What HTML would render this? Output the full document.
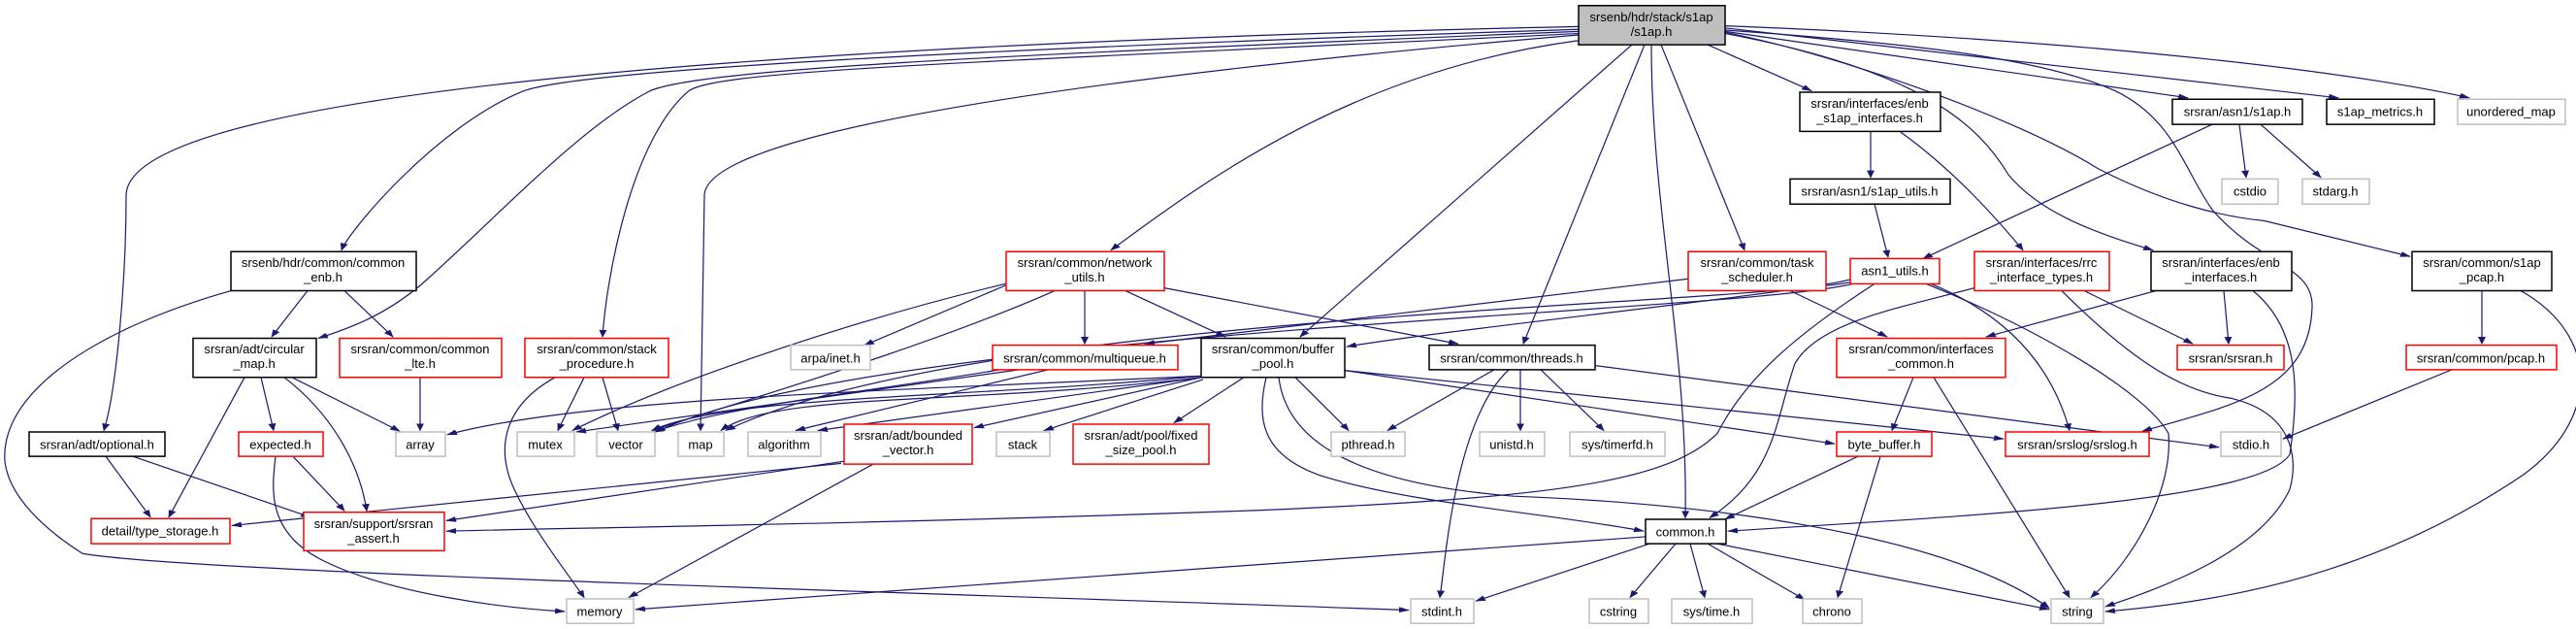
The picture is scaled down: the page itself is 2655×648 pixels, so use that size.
<!DOCTYPE html>
<html><head><meta charset="utf-8"><style>
html,body{margin:0;padding:0;background:#fff;}
svg{display:block;}
text{font-family:"Liberation Sans",sans-serif;font-size:13px;fill:#000;text-anchor:middle;}
.e{fill:none;stroke:#191970;stroke-width:1.2;marker-end:url(#a);vector-effect:non-scaling-stroke;}
.k{fill:#fff;stroke:#000;stroke-width:1.5;vector-effect:non-scaling-stroke;}
.r{fill:#fff;stroke:#ff0000;stroke-width:1.5;vector-effect:non-scaling-stroke;}
.g{fill:#fff;stroke:#bfbfbf;stroke-width:1.5;vector-effect:non-scaling-stroke;}
</style></head><body>
<svg width="2655" height="648" viewBox="0 0 2655 648" xmlns="http://www.w3.org/2000/svg">
<defs><marker id="a" markerWidth="11" markerHeight="8" refX="10" refY="4" orient="auto" markerUnits="userSpaceOnUse"><path d="M0,0 L11,4 L0,8z" fill="#191970"/></marker></defs>
<g transform="scale(1,0.72)">
<path class="e" d="M1627,38 C900,60 130,120 130,280 C130,400 120,560 107,616"/>
<path class="e" d="M1627,42 C1000,70 600,100 540,130 C450,180 360,330 352,358"/>
<path class="e" d="M1627,45 C1000,80 720,100 670,130 C600,180 520,300 440,400 C400,450 360,470 328,484"/>
<path class="e" d="M1627,48 C1000,90 740,100 710,130 C650,200 625,400 621,482"/>
<path class="e" d="M1627,50 C1200,100 726,180 726,280 L722,616"/>
<path class="e" d="M1627,58 C1400,100 1250,250 1145,358"/>
<path class="e" d="M1682,64 L1340,482"/>
<path class="e" d="M1695,64 L1570,492"/>
<path class="e" d="M1702,64 C1702,300 1740,500 1737,741"/>
<path class="e" d="M1712,64 L1798,358"/>
<path class="e" d="M1760,64 L1867,130"/>
<path class="e" d="M1778,45 L2255,140"/>
<path class="e" d="M1778,40 L2410,140"/>
<path class="e" d="M1778,37 C2200,60 2450,110 2545,140"/>
<path class="e" d="M1778,48 C1980,100 2040,180 2070,250 C2100,300 2150,330 2219,358"/>
<path class="e" d="M1777,46 C1900,80 2080,170 2162,241 C2230,290 2290,310 2334,316 L2484,367"/>
<path class="e" d="M1777,43 C1950,60 2100,80 2180,130 C2240,170 2250,240 2280,300 C2330,380 2385,380 2383,440 C2380,560 2300,580 2208,617"/>
<path class="e" d="M317,416 L280,482"/>
<path class="e" d="M355,416 L405,482"/>
<path class="e" d="M238,416 C100,470 0,560 5,660 C10,720 60,770 85,792 C200,820 1000,850 1452,873"/>
<path class="e" d="M301,540 L412,617"/>
<path class="e" d="M269,540 L282,616"/>
<path class="e" d="M293,540 C340,590 370,660 378,731"/>
<path class="e" d="M252,540 L174,740"/>
<path class="e" d="M433,540 L433,616"/>
<path class="e" d="M572,540 C520,580 510,640 530,700 C550,760 590,830 602,855"/>
<path class="e" d="M602,540 L575,616"/>
<path class="e" d="M621,540 L637,616"/>
<path class="e" d="M109,653 L155,740"/>
<path class="e" d="M137,653 L320,740"/>
<path class="e" d="M302,653 L355,731"/>
<path class="e" d="M284,653 C280,700 275,760 330,800 C400,850 520,870 582,875"/>
<path class="e" d="M1037,408 L891,494"/>
<path class="e" d="M1040,405 C900,450 700,540 590,616"/>
<path class="e" d="M1087,416 C950,500 750,580 672,616"/>
<path class="e" d="M1118,416 L1118,492"/>
<path class="e" d="M1160,416 L1263,482"/>
<path class="e" d="M1200,412 L1503,492"/>
<path class="e" d="M1238,538 C900,560 600,570 461,622"/>
<path class="e" d="M1238,538 C1000,570 750,565 672,616"/>
<path class="e" d="M1238,540 C1000,580 800,560 743,616"/>
<path class="e" d="M1238,540 L843,616"/>
<path class="e" d="M1238,540 L1004,612"/>
<path class="e" d="M1240,543 L1076,616"/>
<path class="e" d="M1282,540 L1210,605"/>
<path class="e" d="M1335,540 L1390,616"/>
<path class="e" d="M1305,540 C1295,600 1300,650 1360,680 C1450,720 1600,735 1694,760"/>
<path class="e" d="M1318,540 C1325,620 1380,690 1560,710 C1750,720 2000,760 2112,870"/>
<path class="e" d="M1386,530 L2065,628"/>
<path class="e" d="M1386,530 L1891,635"/>
<path class="e" d="M1050,529 L594,618"/>
<path class="e" d="M1080,529 L820,616"/>
<path class="e" d="M1030,529 C900,560 750,580 674,618"/>
<path class="e" d="M1540,529 L1430,616"/>
<path class="e" d="M1567,529 L1567,616"/>
<path class="e" d="M1588,529 L1653,616"/>
<path class="e" d="M1555,529 C1500,600 1490,800 1484,855"/>
<path class="e" d="M1644,523 L2287,640"/>
<path class="e" d="M867,663 L239,752"/>
<path class="e" d="M870,660 L460,745"/>
<path class="e" d="M900,664 L648,855"/>
<path class="e" d="M1740,399 L1180,492"/>
<path class="e" d="M1845,416 L1945,482"/>
<path class="e" d="M1932,292 L1946,368"/>
<path class="e" d="M1928,188 L1928,254"/>
<path class="e" d="M1958,188 C2010,240 2050,300 2085,358"/>
<path class="e" d="M2280,178 L1982,370"/>
<path class="e" d="M2308,178 L2315,254"/>
<path class="e" d="M2330,178 L2392,254"/>
<path class="e" d="M1907,400 C1850,420 1500,470 1388,496"/>
<path class="e" d="M1907,404 C1750,440 1000,450 748,616"/>
<path class="e" d="M1910,406 C1780,450 900,470 676,618"/>
<path class="e" d="M1932,406 C1850,480 1800,540 1770,620 C1720,690 1600,712 1300,730 C900,750 600,755 460,760"/>
<path class="e" d="M1990,406 C2050,440 2110,500 2133,616"/>
<path class="e" d="M1985,406 C2100,470 2210,560 2235,620 C2240,700 2200,800 2155,855"/>
<path class="e" d="M2148,416 L2260,492"/>
<path class="e" d="M2125,416 C2200,520 2250,560 2300,570 C2360,590 2370,650 2360,700 C2330,790 2230,840 2170,868"/>
<path class="e" d="M2035,412 C1960,440 1875,460 1850,520 C1830,600 1830,680 1762,741"/>
<path class="e" d="M2222,416 L2047,482"/>
<path class="e" d="M2292,416 L2297,492"/>
<path class="e" d="M2322,416 C2370,470 2370,560 2360,650 C2330,720 2000,740 1781,760"/>
<path class="e" d="M2558,416 L2558,492"/>
<path class="e" d="M2598,416 C2680,480 2680,600 2600,680 C2450,820 2300,860 2170,875"/>
<path class="e" d="M2527,529 L2353,628"/>
<path class="e" d="M1972,540 L1950,616"/>
<path class="e" d="M1993,540 L2133,855"/>
<path class="e" d="M1915,653 L1778,743"/>
<path class="e" d="M1938,653 L1894,855"/>
<path class="e" d="M1696,768 L655,872"/>
<path class="e" d="M1700,778 L1521,860"/>
<path class="e" d="M1727,778 L1680,855"/>
<path class="e" d="M1742,778 L1757,855"/>
<path class="e" d="M1760,778 L1860,858"/>
<path class="e" d="M1770,778 L2112,872"/>

<rect x="1627" y="8" width="151" height="56" fill="#bfbfbf" stroke="#000" stroke-width="1.5" vector-effect="non-scaling-stroke"/>
<rect class="k" x="238" y="360" width="191" height="56"/>
<rect class="k" x="199" y="484" width="127" height="56"/>
<rect class="r" x="350" y="484" width="167" height="56"/>
<rect class="r" x="541" y="484" width="148" height="56"/>
<rect class="g" x="815" y="494" width="82" height="35"/>
<rect class="k" x="30" y="618" width="140" height="35"/>
<rect class="r" x="246" y="618" width="87" height="35"/>
<rect class="g" x="408" y="618" width="51" height="35"/>
<rect class="g" x="533" y="618" width="59" height="35"/>
<rect class="g" x="615" y="618" width="60" height="35"/>
<rect class="g" x="699" y="618" width="47" height="35"/>
<rect class="g" x="771" y="618" width="75" height="35"/>
<rect class="r" x="870" y="607" width="132" height="57"/>
<rect class="r" x="94" y="742" width="143" height="36"/>
<rect class="r" x="313" y="733" width="145" height="55"/>
<rect class="g" x="584" y="857" width="69" height="35"/>
<rect class="r" x="1037" y="360" width="163" height="56"/>
<rect class="r" x="1023" y="494" width="191" height="35"/>
<rect class="k" x="1238" y="484" width="148" height="56"/>
<rect class="k" x="1473" y="494" width="171" height="35"/>
<rect class="g" x="1027" y="618" width="55" height="35"/>
<rect class="r" x="1106" y="607" width="140" height="57"/>
<rect class="g" x="1372" y="618" width="76" height="35"/>
<rect class="g" x="1525" y="618" width="67" height="35"/>
<rect class="g" x="1618" y="618" width="98" height="35"/>
<rect class="k" x="1696" y="743" width="83" height="35"/>
<rect class="g" x="1454" y="857" width="65" height="35"/>
<rect class="g" x="1638" y="857" width="61" height="35"/>
<rect class="g" x="1723" y="857" width="83" height="35"/>
<rect class="k" x="1855" y="132" width="145" height="56"/>
<rect class="k" x="2239" y="142" width="134" height="36"/>
<rect class="k" x="2398" y="142" width="111" height="36"/>
<rect class="g" x="2533" y="142" width="111" height="36"/>
<rect class="k" x="1845" y="256" width="165" height="36"/>
<rect class="g" x="2290" y="256" width="58" height="36"/>
<rect class="g" x="2373" y="256" width="69" height="36"/>
<rect class="r" x="1740" y="360" width="142" height="56"/>
<rect class="r" x="1907" y="370" width="92" height="36"/>
<rect class="r" x="2035" y="360" width="139" height="56"/>
<rect class="k" x="2217" y="360" width="145" height="56"/>
<rect class="k" x="2486" y="360" width="144" height="56"/>
<rect class="r" x="1893" y="484" width="174" height="56"/>
<rect class="r" x="2244" y="494" width="110" height="35"/>
<rect class="r" x="2480" y="494" width="155" height="35"/>
<rect class="r" x="1893" y="618" width="98" height="35"/>
<rect class="r" x="2067" y="618" width="148" height="35"/>
<rect class="g" x="2289" y="618" width="62" height="35"/>
<rect class="g" x="1858" y="857" width="61" height="35"/>
<rect class="g" x="2114" y="857" width="54" height="35"/>
</g>
<g>
<text x="1702" y="22">srsenb/hdr/stack/s1ap</text><text x="1702" y="37">/s1ap.h</text>
<text x="333" y="275">srsenb/hdr/common/common</text><text x="333" y="290">_enb.h</text>
<text x="262" y="364">srsran/adt/circular</text><text x="262" y="379">_map.h</text>
<text x="433" y="364">srsran/common/common</text><text x="433" y="379">_lte.h</text>
<text x="615" y="364">srsran/common/stack</text><text x="615" y="379">_procedure.h</text>
<text x="856" y="373.5">arpa/inet.h</text>
<text x="100" y="462.5">srsran/adt/optional.h</text>
<text x="289" y="462.5">expected.h</text>
<text x="433" y="462.5">array</text>
<text x="562" y="462.5">mutex</text>
<text x="645" y="462.5">vector</text>
<text x="722" y="462.5">map</text>
<text x="808" y="462.5">algorithm</text>
<text x="936" y="453">srsran/adt/bounded</text><text x="936" y="468">_vector.h</text>
<text x="165" y="551.5">detail/type_storage.h</text>
<text x="385" y="544">srsran/support/srsran</text><text x="385" y="559">_assert.h</text>
<text x="618" y="634.5">memory</text>
<text x="1118" y="275">srsran/common/network</text><text x="1118" y="290">_utils.h</text>
<text x="1118" y="373.5">srsran/common/multiqueue.h</text>
<text x="1312" y="364">srsran/common/buffer</text><text x="1312" y="379">_pool.h</text>
<text x="1558" y="373.5">srsran/common/threads.h</text>
<text x="1054" y="462.5">stack</text>
<text x="1176" y="453">srsran/adt/pool/fixed</text><text x="1176" y="468">_size_pool.h</text>
<text x="1410" y="462.5">pthread.h</text>
<text x="1558" y="462.5">unistd.h</text>
<text x="1667" y="462.5">sys/timerfd.h</text>
<text x="1737" y="552.5">common.h</text>
<text x="1486" y="634.5">stdint.h</text>
<text x="1668" y="634.5">cstring</text>
<text x="1764" y="634.5">sys/time.h</text>
<text x="1927" y="111">srsran/interfaces/enb</text><text x="1927" y="126">_s1ap_interfaces.h</text>
<text x="2306" y="119.5">srsran/asn1/s1ap.h</text>
<text x="2453" y="119.5">s1ap_metrics.h</text>
<text x="2588" y="119.5">unordered_map</text>
<text x="1927" y="201.5">srsran/asn1/s1ap_utils.h</text>
<text x="2319" y="201.5">cstdio</text>
<text x="2407" y="201.5">stdarg.h</text>
<text x="1811" y="275">srsran/common/task</text><text x="1811" y="290">_scheduler.h</text>
<text x="1953" y="283.5">asn1_utils.h</text>
<text x="2104" y="275">srsran/interfaces/rrc</text><text x="2104" y="290">_interface_types.h</text>
<text x="2289" y="275">srsran/interfaces/enb</text><text x="2289" y="290">_interfaces.h</text>
<text x="2558" y="275">srsran/common/s1ap</text><text x="2558" y="290">_pcap.h</text>
<text x="1980" y="364">srsran/common/interfaces</text><text x="1980" y="379">_common.h</text>
<text x="2299" y="373.5">srsran/srsran.h</text>
<text x="2557" y="373.5">srsran/common/pcap.h</text>
<text x="1942" y="462.5">byte_buffer.h</text>
<text x="2141" y="462.5">srsran/srslog/srslog.h</text>
<text x="2320" y="462.5">stdio.h</text>
<text x="1888" y="634.5">chrono</text>
<text x="2141" y="634.5">string</text>
</g>
</svg>
</body></html>
